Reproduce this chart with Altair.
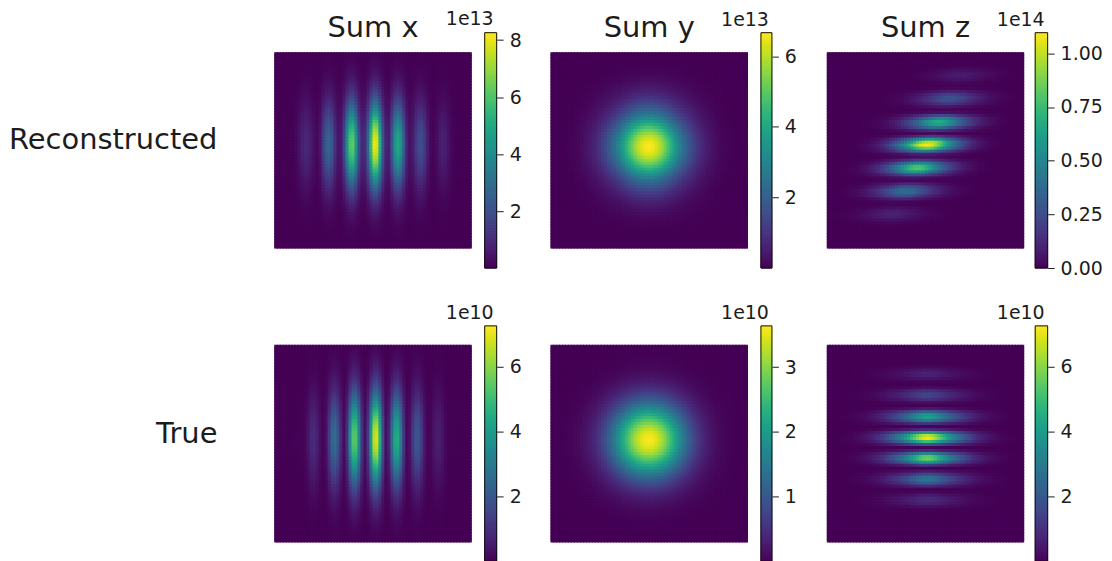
import altair as alt
import numpy as np
import pandas as pd

alt.data_transformers.disable_max_rows()

FONT = "DejaVu Sans"
INK = "#1c1c1c"

# ---- values: profile across / along the fringes, 66 samples each ----
# Reconstructed, Sum x (1e13)
rx_cols = [.02,.02,.02,.03,.03,.04,.05,.15,.40,.70,.90,.85,.55,.30,.15,.45,1.5,2.4,2.7,2.2,1.1,.45,.55,1.8,
           4.1,6.0,6.2,4.4,2.0,.9,1.0,2.7,5.6,8.0,7.8,5.2,2.2,.8,.7,2.3,4.2,5.0,4.2,2.4,.8,.35,.6,1.3,1.9,1.9,
           1.35,.6,.15,.08,.25,.55,.7,.62,.35,.12,.04,.02,.02,.02,.02,.02]
rx_rows = [.009,.012,.016,.021,.027,.036,.046,.058,.074,.092,.114,.14,.17,.204,.243,.286,.333,.384,.439,.497,.556,
           .617,.677,.736,.792,.844,.89,.93,.961,.983,.997,1,.993,.977,.951,.917,.875,.827,.773,.716,.657,.597,.536,
           .477,.42,.366,.316,.27,.229,.192,.159,.131,.106,.086,.068,.054,.042,.033,.025,.019,.014,.011,.008,.006,
           .004,.003]

# Reconstructed, Sum y (1e13)
ry_cols = [0,.01,.01,.01,.02,.03,.05,.07,.11,.15,.21,.29,.39,.50,.63,.80,1.0,1.23,1.50,1.80,2.13,2.45,2.85,3.29,
           3.78,4.29,4.78,5.25,5.68,6.04,6.33,6.54,6.64,
           6.64,6.54,6.33,6.04,5.68,5.25,4.78,4.29,3.78,3.29,2.85,2.45,2.13,1.80,1.50,1.23,1.0,.80,.63,.50,.39,.29,
           .21,.15,.11,.07,.05,.03,.02,.01,.01,.01,0]
ry_rows = [.001,.001,.002,.003,.005,.007,.011,.016,.023,.032,.044,.058,.075,.095,.12,.15,.185,.225,.27,.32,
           .365,.428,.494,.569,.645,.719,.79,.854,.909,.952,.983,.998,
           .998,.983,.952,.909,.854,.79,.719,.645,.569,.494,.428,.365,.32,.27,.225,.185,.15,.12,.095,.075,.058,
           .044,.032,.023,.016,.011,.007,.005,.003,.002,.001,.001,.001,.001]

# Reconstructed, Sum z (1e14): brightness of each row, column of its maximum, fall-off away from it
rz_rows = [.001,.001,.001,.001,.003,.02,.05,.077,.077,.05,.02,.01,.02,.10,.21,.275,.26,.17,.07,.02,.05,.25,.51,
           .67,.63,.41,.15,.03,.20,.61,.98,1.08,.85,.45,.10,.04,.20,.52,.77,.80,.58,.27,.05,.02,.13,.28,.39,.38,
           .26,.10,.02,.01,.04,.08,.10,.09,.05,.02,.005,.001,.001,.001,.001,.001,.001,.001]
rz_peak_col = [48,47,47,46,46,46,45,45,44,44,43,43,42,42,41,41,40,40,39,39,39,38,38,37,37,36,36,35,35,34,34,33,33,
               32,32,32,31,31,30,30,29,29,28,28,27,27,26,26,25,25,23,23,23,22,22,21,21,21,21,20,20,19,19,18,18,17]
rz_falloff = [1,.985,.95,.88,.80,.71,.62,.54,.47,.40,.33,.28,.23,.18,.14,.11,.085,.065,.05,.036,.026,.018,.012,
              .008,.005,.003,.002,.001]

# True, Sum x (1e10)
tx_cols = [.02,.02,.02,.02,.02,.02,.02,.03,.03,.04,.12,.40,.78,.88,.62,.25,.06,.30,1.25,2.3,2.55,1.85,.8,.2,1.0,3.4,
           5.3,5.3,3.4,1.1,.25,1.2,3.9,6.5,6.8,4.6,1.7,.25,.7,2.6,4.3,4.45,3.0,1.1,.15,.35,1.2,1.9,1.9,1.2,.4,.06,
           .1,.36,.57,.57,.36,.12,.03,.02,.02,.02,.02,.02,.02,.02]
tx_rows = [.018,.023,.03,.038,.047,.059,.073,.09,.109,.131,.157,.186,.219,.256,.296,.34,.386,.436,.489,.542,.597,
           .652,.707,.759,.809,.855,.896,.931,.96,.981,.994,1,.997,.986,.967,.941,.908,.869,.824,.776,.724,.67,.615,
           .56,.506,.453,.403,.355,.31,.269,.231,.197,.166,.14,.116,.096,.078,.064,.051,.041,.032,.025,.02,.015,
           .012,.009]

# True, Sum y (1e10)
ty_cols = [0,0,.01,.01,.01,.02,.03,.05,.07,.09,.12,.17,.22,.29,.37,.47,.59,.73,.89,1.08,1.28,1.50,1.74,1.98,2.24,
           2.49,2.73,2.96,3.16,3.33,3.47,3.57,3.61,
           3.61,3.57,3.47,3.33,3.16,2.96,2.73,2.49,2.24,1.98,1.74,1.50,1.28,1.08,.89,.73,.59,.47,.37,.29,.22,.17,
           .12,.09,.07,.05,.03,.02,.01,.01,.01,0,0]
ty_rows = [.001,.002,.003,.004,.006,.009,.013,.018,.025,.034,.046,.061,.079,.102,.13,.163,.202,.247,.297,.353,.414,
           .48,.548,.618,.687,.755,.817,.874,.921,.959,.985,.998,
           .998,.985,.959,.921,.874,.817,.755,.687,.618,.548,.48,.414,.353,.297,.247,.202,.163,.13,.102,.079,.061,
           .046,.034,.025,.018,.013,.009,.006,.004,.003,.002,.001,.001,.001]

# True, Sum z (1e10)
tz_cols = [.001,.001,.002,.002,.003,.005,.007,.01,.014,.02,.028,.037,.047,.059,.074,.092,.115,.14,.17,.205,.25,.295,
           .34,.39,.44,.50,.56,.63,.71,.78,.86,.93,.98,1,.995,.96,.90,.83,.75,.68,.61,.54,.48,.42,.37,.325,.28,.235,
           .195,.16,.13,.105,.085,.068,.054,.043,.033,.025,.018,.013,.009,.006,.004,.003,.002,.001]
tz_rows = [.005,.005,.005,.005,.005,.005,.02,.15,.42,.68,.62,.37,.1,.03,.27,.93,1.43,1.43,.93,.28,.03,.5,2.25,3.8,
           4.1,2.95,1.13,.1,.9,3.9,6.55,7.05,5.05,1.95,.1,.9,3.3,5.4,5.6,3.9,1.2,.05,.5,1.55,2.65,2.85,2.05,.8,.05,
           .12,.48,.82,.88,.63,.25,.04,.005,.005,.005,.005,.005,.005,.005,.005,.005,.005]

titles = ["Sum x", "Sum y", "Sum z"]
row_labels = ["Reconstructed", "True"]
exponents = [["1e13", "1e13", "1e14"], ["1e10", "1e10", "1e10"]]
color_tops = [[8.26, 6.67, 1.096], [7.26, 3.64, 7.26]]
bar_ticks = [[[2, 4, 6, 8], [2, 4, 6], [0, .25, .5, .75, 1]], [[2, 4, 6], [1, 2, 3], [2, 4, 6]]]
tick_formats = [["d", "d", ".2f"], ["d", "d", "d"]]

for a in [rx_cols, rx_rows, ry_cols, ry_rows, rz_rows, rz_peak_col,
          tx_cols, tx_rows, ty_cols, ty_rows, tz_cols, tz_rows]:
    assert len(a) == 66, len(a)


def table(matrix):
    m = np.asarray(matrix)
    rows, cols = np.indices(m.shape)
    return pd.DataFrame({"row": rows.ravel(), "col": cols.ravel(), "v": m.ravel().round(4)})


def rz_matrix():
    out = np.zeros((66, 66))
    for j in range(66):
        for k in range(66):
            dist = abs(k - rz_peak_col[j])
            if dist < len(rz_falloff):
                out[j, k] = rz_rows[j] * rz_falloff[dist]
    return out


matrices = [
    [np.outer(rx_rows, rx_cols), np.outer(ry_rows, ry_cols), rz_matrix()],
    [np.outer(tx_rows, tx_cols), np.outer(ty_rows, ty_cols), np.outer(tz_rows, tz_cols)],
]

BAR_PANEL = 79
BAR_HEIGHT = 236


def heat(matrix, top, title=None):
    scale = alt.Scale(scheme="viridis", domain=[0, top])
    if title:
        props = dict(
            width=198, height=197,
            title=alt.TitleParams(title, fontSize=29, font=FONT, fontWeight="normal", color=INK,
                                  offset=9, anchor="middle"),
        )
        yscale = alt.Scale(paddingInner=0, paddingOuter=0)
    else:
        # no title above this image: empty rows above and below centre it beside the 236 px colour bar
        props = dict(width=198, height=BAR_HEIGHT)
        yscale = alt.Scale(paddingInner=0, paddingOuter=0.5, domain=list(range(-6, 72)))
    return (
        alt.Chart(table(matrix))
        .mark_rect(strokeWidth=1.2, clip=True)
        .encode(
            x=alt.X("col:O", axis=None, scale=alt.Scale(paddingInner=0, paddingOuter=0)),
            y=alt.Y("row:O", axis=None, scale=yscale),
            color=alt.Color("v:Q", scale=scale, legend=None),
            stroke=alt.Stroke("v:Q", scale=scale, legend=None),
        )
        .properties(**props)
    )


def bar(top, ticks, fmt, exponent, left, thick):
    levels = np.linspace(0, top, 119)
    df = pd.DataFrame({"v": levels[:-1], "v2": levels[1:]})
    scale = alt.Scale(scheme="viridis", domain=[0, top])
    yscale = alt.Scale(domain=[0, top], nice=False, zero=False)
    right = left + thick
    fill = alt.Chart(df).mark_rect(strokeWidth=1).encode(
        x=alt.value(left), x2=alt.value(right),
        y=alt.Y("v:Q", scale=yscale, title=None,
                axis=alt.Axis(orient="right", offset=right - BAR_PANEL, values=ticks, format=fmt, grid=False,
                              domain=False, tickSize=6.5, tickColor=INK, tickWidth=1, labelFontSize=19,
                              labelFont=FONT, labelColor=INK, labelPadding=6, labelFlush=False,
                              labelOverlap=False)),
        y2="v2:Q",
        color=alt.Color("v:Q", scale=scale, legend=None),
        stroke=alt.Stroke("v:Q", scale=scale, legend=None),
    )
    frame = alt.Chart(pd.DataFrame({"a": [0]})).mark_rect(
        fill=None, stroke="#111111", strokeWidth=1
    ).encode(x=alt.value(left), x2=alt.value(right), y=alt.value(0), y2=alt.value(BAR_HEIGHT))
    return alt.layer(fill, frame).properties(
        width=BAR_PANEL, height=BAR_HEIGHT,
        title=alt.TitleParams(exponent, fontSize=19, font=FONT, fontWeight="normal", color=INK,
                              anchor="end", offset=4, dy=2, dx=right - BAR_PANEL - 3),
    )


def label(text):
    return (
        alt.Chart(pd.DataFrame({"label": [text]}))
        .mark_text(align="right", baseline="middle", fontSize=29, font=FONT, color=INK)
        .encode(text="label:N", x=alt.value(205), y=alt.value(108))
        .properties(width=262, height=BAR_HEIGHT)
    )


bar_left = [13, 13, 11]
bar_thick = [12, 11, 12.5]

panels = []
for r in range(2):
    panels.append(label(row_labels[r]))
    for c in range(3):
        panels.append(heat(matrices[r][c], color_tops[r][c], titles[c] if r == 0 else None))
        panels.append(bar(color_tops[r][c], bar_ticks[r][c], tick_formats[r][c], exponents[r][c],
                          bar_left[c], bar_thick[c]))

chart = (
    alt.concat(*panels, columns=7, spacing=alt.RowColnumber(row=58, column=0),
               center=alt.RowColboolean(row=True), bounds="flush")
    .resolve_scale(color="independent", stroke="independent")
    .properties(padding={"left": 0, "top": 0, "right": 0, "bottom": 0}, background="white")
    .configure_view(stroke="transparent")
)

chart.save("out.html", embed_options={"renderer": "svg", "actions": False})
